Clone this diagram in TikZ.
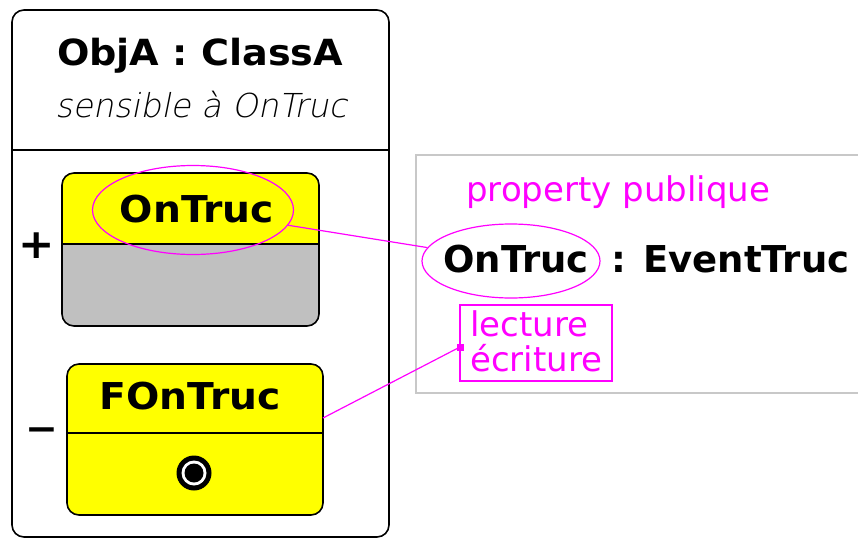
\documentclass[tikz,border=0pt]{standalone}
\usepackage{fontspec}
\setmainfont{DejaVu Sans}
\newfontfamily\vbold{DejaVu Sans}[FakeStretch=1.06]
\newfontfamily\thinit[FakeSlant=0.2]{DejaVu Sans ExtraLight}
\usetikzlibrary{shapes.geometric}
\definecolor{mag}{RGB}{255,0,255}
\definecolor{ylw}{RGB}{255,255,0}
\definecolor{gry}{RGB}{192,192,192}
\definecolor{lgry}{RGB}{200,200,200}
\tikzset{
  boldtxt/.style={inner sep=0pt, font=\fontsize{37}{40}\vbold\bfseries},
  boldplain/.style={inner sep=0pt, font=\fontsize{37}{40}\selectfont\bfseries},
  magtxt/.style={inner sep=0pt, text=mag, font=\fontsize{34}{38}\selectfont},
  hilite/.style={draw=mag, line width=1.2pt, ellipse, inner sep=0pt},
  link/.style={draw=mag, line width=1.2pt},
  frame/.style={draw=black, line width=1.6pt, rounded corners=12pt},
}
\begin{document}
\begin{tikzpicture}[x=1pt,y=-1pt]
\useasboundingbox (0,0) rectangle (858,538);
% object box
\draw[frame] (12,10) rectangle (389,537);
\draw[line width=1.4pt] (12,150) -- (389,150);
\node[boldtxt, font=\fontsize{36}{40}\vbold\bfseries] (title) at (200,56) {ObjA : ClassA};
\node[inner sep=0pt, font=\fontsize{33}{38}\selectfont\thinit] (sens) at (201,105) {sensible à OnTruc};
% box 1
\node[minimum width=257pt, minimum height=153pt, inner sep=0pt] (box1) at (190.5,249.5) {};
\begin{scope}
  \clip[rounded corners=12pt] (62,173) rectangle (319,326);
  \fill[ylw] (62,173) rectangle (319,244);
  \fill[gry] (62,244) rectangle (319,326);
\end{scope}
\draw[frame] (62,173) rectangle (319,326);
\draw[line width=1.4pt] (62,244) -- (319,244);
\node[boldtxt] (ontruc1) at (197,209) {OnTruc};
\node[hilite, minimum width=201pt, minimum height=89pt] (ell1) at (193,210) {};
\node[boldtxt, font=\fontsize{41}{44}\vbold\bfseries] (plus) at (37,246) {+};
% box 2
\node[minimum width=256pt, minimum height=151pt, inner sep=0pt] (box2) at (195,439.5) {};
\fill[ylw, rounded corners=12pt] (67,364) rectangle (323,515);
\draw[frame] (67,364) rectangle (323,515);
\draw[line width=1.4pt] (67,433) -- (323,433);
\node[boldtxt] (fontruc) at (190,396) {FOnTruc};
\node[boldtxt] (minus) at (42,435) {−};
\node[circle, fill=black, minimum size=35pt, inner sep=0pt] (evt) at (194,473) {};
\node[circle, fill=white, minimum size=25pt, inner sep=0pt] (evtw) at (194,473) {};
\node[circle, fill=black, minimum size=19pt, inner sep=0pt] (evtd) at (194,473) {};
% right panel
\draw[lgry, line width=1.5pt] (858,155) -- (416,155) -- (416,393) -- (858,393);
\node[magtxt, anchor=west] (prop) at (466,192) {property publique};
\node[boldplain, anchor=west] (ontruc2) at (443,259) {OnTruc};
\node[boldplain, anchor=west] (evtype) at (611,259) {: EventTruc};
\node[hilite, minimum width=178pt, minimum height=74pt] (ell2) at (511,261) {};
\node[draw=mag, line width=1.2pt, minimum width=152pt, minimum height=76pt, inner sep=0pt] (rw) at (536,343) {};
\node[magtxt, anchor=west] (lect) at (470,324) {lecture};
\node[magtxt, anchor=west] (ecr) at (470,358) {écriture};
\node[fill=mag, minimum size=7pt, inner sep=0pt] (sq) at (460,347) {};
% connectors
\coordinate (b2out) at (323,418);
\draw[link] (ell1) -- (ell2);
\draw[link] (b2out) -- (sq.center);
\end{tikzpicture}
\end{document}
